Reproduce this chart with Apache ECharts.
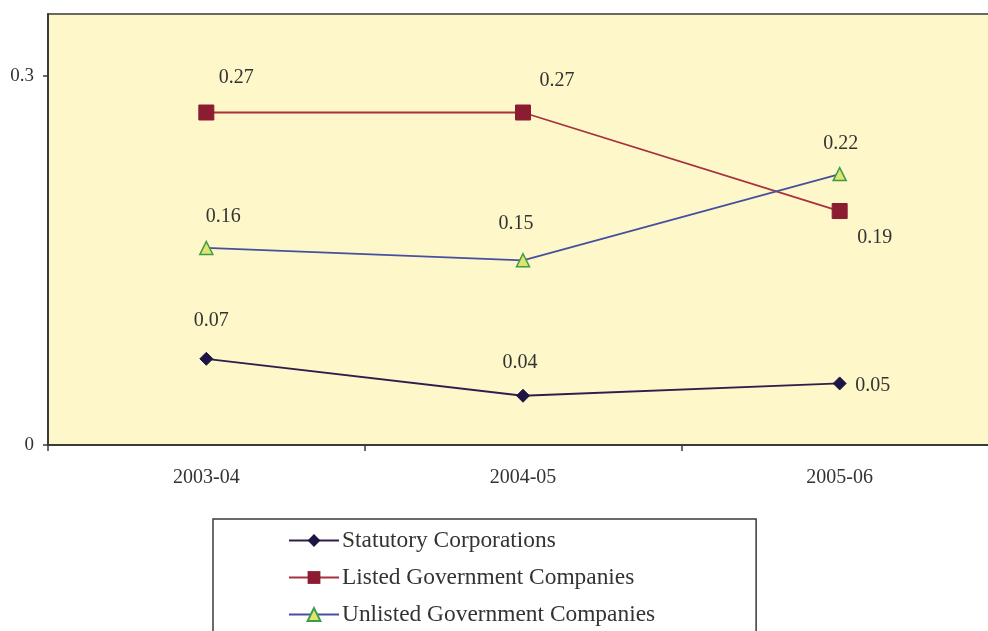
<!DOCTYPE html>
<html>
<head>
<meta charset="utf-8">
<script src="https://cdn.jsdelivr.net/npm/echarts@6/dist/echarts.min.js"></script>
<style>
html,body{margin:0;padding:0;background:#fff;}
#chart{width:988px;height:631px;}
</style>
</head>
<body>
<div id="chart"></div>
<script>
var categories = ['2003-04', '2004-05', '2005-06'];
var statutory = [0.07, 0.04, 0.05];
var listed = [0.27, 0.27, 0.19];
var unlisted = [0.16, 0.15, 0.22];
var seriesNames = ['Statutory Corporations', 'Listed Government Companies', 'Unlisted Government Companies'];
var yTicks = [0, 0.3];

// label offsets (style only)
var offStat = [[5, -38], [-3, -33], [33, 2]];
var offList = [[30, -35], [34, -32], [35, 27]];
var offUnl = [[17, -31], [-7, -37], [1, -30]];

var FONT = '"Liberation Serif", "Times New Roman", serif';

function withLabels(values, offs) {
  return values.map(function (v, i) {
    return { value: v, label: { offset: offs[i] } };
  });
}

var labelBase = {
  show: true,
  position: 'inside',
  fontFamily: FONT,
  fontSize: 20,
  color: '#333',
  formatter: function (p) { return p.value.toFixed(2); }
};

var chart = echarts.init(document.getElementById('chart'));
chart.setOption({
  animation: false,
  backgroundColor: '#ffffff',
  grid: {
    left: 48, top: 14, right: -10, bottom: 186,
    outerBoundsMode: 'none',
    containLabel: false,
    show: true,
    backgroundColor: '#fdf7c9',
    borderColor: '#3a3a3a',
    borderWidth: 1.5
  },
  xAxis: {
    type: 'category',
    data: categories,
    boundaryGap: true,
    axisLine: { lineStyle: { color: '#3a3a3a', width: 2 } },
    axisTick: { show: true, length: 6, inside: false, lineStyle: { color: '#3a3a3a', width: 1.5 } },
    axisLabel: { fontFamily: FONT, fontSize: 20, color: '#333', margin: 23 },
    splitLine: { show: false }
  },
  yAxis: {
    type: 'value',
    min: 0,
    max: 0.35,
    interval: 0.3,
    axisLine: { show: true, lineStyle: { color: '#3a3a3a', width: 2 } },
    axisTick: { show: true, length: 5, customValues: yTicks, lineStyle: { color: '#3a3a3a', width: 1.5 } },
    axisLabel: { fontFamily: FONT, fontSize: 19, color: '#333', margin: 14, customValues: yTicks,
      formatter: function (v) { return String(v); } },
    splitLine: { show: false }
  },
  legend: {
    orient: 'vertical',
    left: 213,
    top: 519,
    height: 300,
    padding: [10, 101, 30, 75],
    itemGap: 14,
    itemWidth: 50,
    itemHeight: 16,
    backgroundColor: '#ffffff',
    borderColor: '#3a3a3a',
    borderWidth: 1.5,
    borderRadius: 0,
    textStyle: { fontFamily: FONT, fontSize: 23.4, color: '#333', padding: [0, 0, 0, -2] },
    data: seriesNames
  },
  series: [
    {
      name: seriesNames[0], type: 'line',
      data: withLabels(statutory, offStat),
      symbol: 'diamond', symbolSize: 13,
      lineStyle: { color: '#2e1d4e', width: 1.8 },
      itemStyle: { color: '#1f1545', borderColor: '#1f1545' },
      label: labelBase
    },
    {
      name: seriesNames[1], type: 'line',
      data: withLabels(listed, offList),
      symbol: 'rect', symbolSize: 15,
      lineStyle: { color: '#a8303f', width: 1.8 },
      itemStyle: { color: '#8c1c30', borderColor: '#8c1c30' },
      label: labelBase
    },
    {
      name: seriesNames[2], type: 'line',
      data: withLabels(unlisted, offUnl),
      symbol: 'triangle', symbolSize: 13,
      lineStyle: { color: '#4750a0', width: 1.8 },
      itemStyle: { color: '#dfe570', borderColor: '#3f9a4a', borderWidth: 1.5 },
      label: labelBase
    }
  ]
});
</script>
</body>
</html>
